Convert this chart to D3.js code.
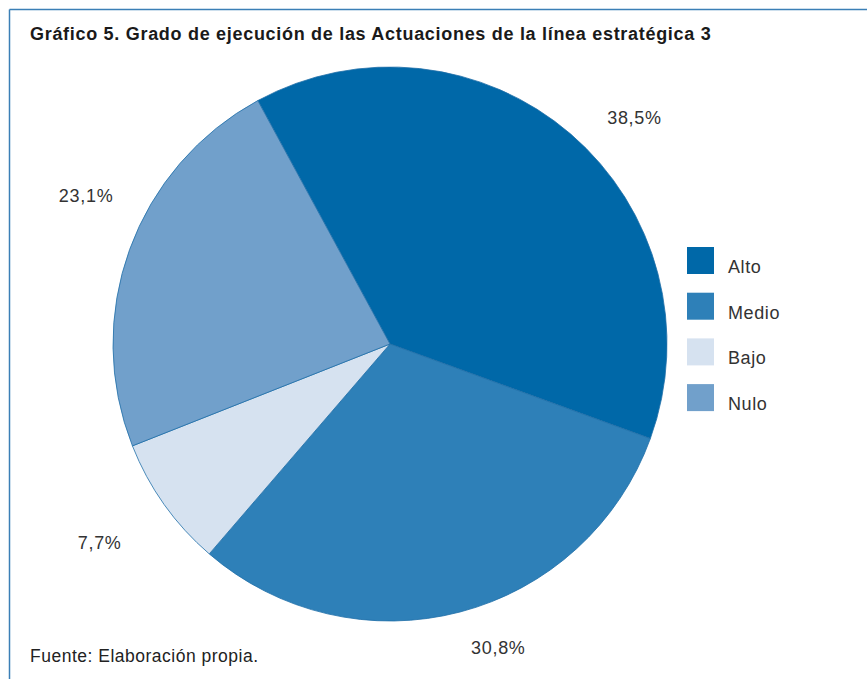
<!DOCTYPE html>
<html>
<head>
<meta charset="utf-8">
<script src="https://cdn.jsdelivr.net/npm/d3@7"></script>
<style>
    body { margin: 0; background: #fff; }
    text { font-family: "Liberation Sans", Arial, sans-serif; }
</style>
</head>
<body>
<div id="chart"></div>
<script>
// Data
const categories = ["Alto", "Medio", "Bajo", "Nulo"];
const values = [38.5, 30.8, 7.7, 23.1];
const labels = ["38,5%", "30,8%", "7,7%", "23,1%"];

const colors = ["#0068a8", "#2e80b8", "#d6e2f0", "#71a0cb"];

const width = 867, height = 679;
const cx = 390, cy = 344, radius = 277;

const svg = d3.select("#chart")
    .append("svg")
    .attr("width", width)
    .attr("height", height);

// frame (top and left rules)
svg.append("line")
    .attr("x1", 9.5).attr("x2", width).attr("y1", 9.5).attr("y2", 9.5)
    .style("stroke", "#3b7fb6").style("stroke-width", 1.5);
svg.append("line")
    .attr("x1", 9.5).attr("x2", 9.5).attr("y1", 9.5).attr("y2", height)
    .style("stroke", "#3b7fb6").style("stroke-width", 1.5);

// title
svg.append("text")
    .attr("x", 30).attr("y", 40)
    .style("font-size", "18px")
    .style("letter-spacing", "0.7px")
    .style("font-weight", "bold")
    .style("fill", "#1a1a1a")
    .text("Gráfico 5. Grado de ejecución de las Actuaciones de la línea estratégica 3");

// source
svg.append("text")
    .attr("x", 30).attr("y", 662)
    .style("font-size", "17.5px")
    .style("letter-spacing", "0.5px")
    .style("fill", "#222")
    .text("Fuente: Elaboración propia.");

const color = d3.scaleOrdinal().domain(categories).range(colors);

const pie = d3.pie()
    .sort(null)
    .startAngle(-28.5 * Math.PI / 180)
    .endAngle((360 - 28.5) * Math.PI / 180)
    .value(d => d.value);

const data = categories.map((c, i) => ({ cat: c, value: values[i], label: labels[i] }));
const arcs = pie(data);

const arc = d3.arc().innerRadius(0).outerRadius(radius);

const g = svg.append("g").attr("transform", `translate(${cx}, ${cy})`);

g.selectAll("path")
    .data(arcs)
    .join("path")
    .attr("d", arc)
    .style("fill", d => color(d.data.cat))
    .style("stroke", "#1f6ea8")
    .style("stroke-width", 0.8);

// percentage labels: placed outside the slices, with small angular nudges
const labelNudge = [6.5, -5, 1, 6]; // degrees
const labelRadius = [333, 322, 352, 338];
g.selectAll("text.pct")
    .data(arcs)
    .join("text")
    .attr("class", "pct")
    .attr("transform", (d, i) => {
        const a = (d.startAngle + d.endAngle) / 2 + labelNudge[i] * Math.PI / 180;
        const r = labelRadius[i];
        return `translate(${r * Math.sin(a)}, ${-r * Math.cos(a)})`;
    })
    .attr("dy", "0.35em")
    .style("text-anchor", "middle")
    .style("font-size", "18px")
    .style("letter-spacing", "0.7px")
    .style("fill", "#333")
    .text(d => d.data.label);

// legend
const legend = svg.append("g")
    .attr("transform", "translate(687, 247)");

const item = legend.selectAll("g")
    .data(categories)
    .join("g")
    .attr("transform", (d, i) => `translate(0, ${i * 45.7})`);

item.append("rect")
    .attr("width", 27).attr("height", 27)
    .style("fill", d => color(d));

item.append("text")
    .attr("x", 41).attr("y", 26)
    .style("font-size", "18px")
    .style("letter-spacing", "0.6px")
    .style("fill", "#333")
    .text(d => d);
</script>
</body>
</html>
